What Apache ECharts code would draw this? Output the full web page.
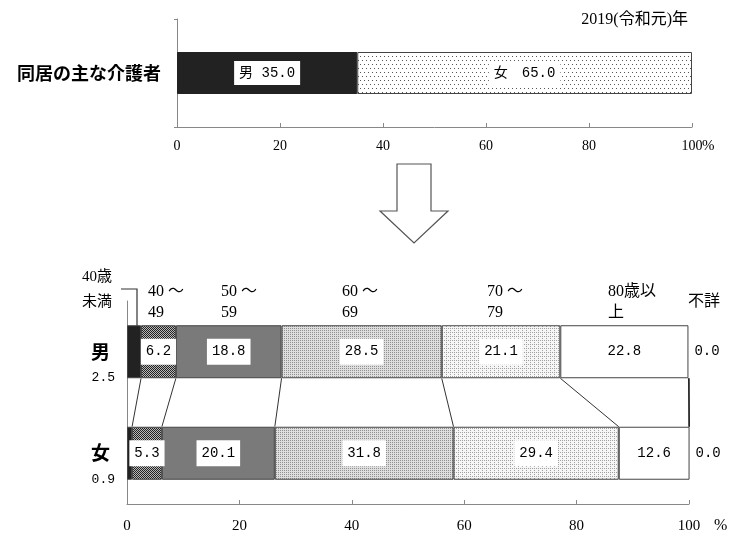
<!DOCTYPE html>
<html><head><meta charset="utf-8">
<script src="https://cdn.jsdelivr.net/npm/echarts@6/dist/echarts.min.js"></script>
<style>html,body{margin:0;padding:0;background:#fff}#c{width:734px;height:534px}</style>
</head><body><div id="c"></div>
<script>
// ---- data ----
const topCategory = ['同居の主な介護者'];
const topMale = [35.0];
const topFemale = [65.0];
const sexes = ['男', '女'];
const ageGroups = ['40歳未満', '40～49', '50～59', '60～69', '70～79', '80歳以上', '不詳'];
const maleShares = [2.5, 6.2, 18.8, 28.5, 21.1, 22.8, 0.0];
const femaleShares = [0.9, 5.3, 20.1, 31.8, 29.4, 12.6, 0.0];
const headerLines = [['40歳', '未満'], ['40 ～', '49'], ['50 ～', '59'], ['60 ～', '69'], ['70 ～', '79'], ['80歳以', '上'], ['不詳']];
const yearLabel = '2019(令和元)年';

// ---- styles ----
const NUM = '"Liberation Mono", "Noto Sans CJK JP", monospace';
const SERIF = '"Liberation Serif", "Noto Sans CJK JP", serif';
const JP = '"Noto Sans CJK JP", sans-serif';

function pattern(w, h, bg, fg, dots) {
  const c = document.createElement('canvas');
  c.width = w; c.height = h;
  const g = c.getContext('2d');
  g.fillStyle = bg; g.fillRect(0, 0, w, h);
  g.fillStyle = fg;
  dots.forEach(d => g.fillRect(d[0], d[1], 1, 1));
  return { image: c, repeat: 'repeat' };
}
const fills = [
  '#222222',
  pattern(2, 2, '#b8b8b8', '#222222', [[0, 0], [1, 1]]),
  '#7a7a7a',
  pattern(2, 2, '#dedede', '#909090', [[0, 0]]),
  pattern(4, 4, '#f6f6f6', '#a0a0a0', [[0, 0], [2, 2], [2, 0]]),
  '#ffffff',
  '#ffffff'
];
const topFemaleFill = pattern(4, 8, '#ffffff', '#555555', [[0, 0], [2, 4]]);

const BW = 53;      // bottom bar thickness
const TBW = 42;     // top bar thickness

const boxLabel = {
  show: true, position: 'inside', color: '#000', fontFamily: NUM, fontSize: 14,
  backgroundColor: '#fff', padding: [6, 5], formatter: p => p.value.toFixed(1)
};

function bottomLabel(i) {
  if (i === 0) return { show: true, position: 'left', distance: 12, offset: [0, 26], color: '#000', fontFamily: NUM, fontSize: 13, formatter: p => p.value.toFixed(1) };
  if (i === ageGroups.length - 1) return { show: true, position: 'right', distance: 6, color: '#000', fontFamily: NUM, fontSize: 14, formatter: p => p.value.toFixed(1) };
  return boxLabel;
}

const cumulative = arr => { let s = 0; return arr.map(v => (s += v)); };
const maleCum = cumulative(maleShares);
const femaleCum = cumulative(femaleShares);
const connectors = maleCum.slice(0, ageGroups.length - 1).map((m, i) => [m, femaleCum[i], 0]);

const axisLineStyle = { lineStyle: { color: '#888', width: 1 } };

const bottomSeries = ageGroups.map((g, i) => ({
  name: g, type: 'bar', xAxisIndex: 1, yAxisIndex: 1, stack: 'age', barWidth: BW, clip: false,
  data: [maleShares[i], femaleShares[i]],
  itemStyle: { color: fills[i], borderColor: '#444', borderWidth: i === ageGroups.length - 1 ? 0 : 1 },
  label: bottomLabel(i)
}));

const chart = echarts.init(document.getElementById('c'), null, { renderer: 'canvas' });

const graphics = [];
// title
graphics.push({ type: 'text', x: 688, y: 20, style: { text: yearLabel, font: '16px ' + SERIF, fill: '#000', align: 'right', verticalAlign: 'middle' } });
// % signs
graphics.push({ type: 'text', x: 702, y: 146, style: { text: '%', font: '15px ' + SERIF, fill: '#000', verticalAlign: 'middle' } });
graphics.push({ type: 'text', x: 714, y: 526, style: { text: '%', font: '16px ' + SERIF, fill: '#000', verticalAlign: 'middle' } });
// arrow
graphics.push({ type: 'polygon', shape: { points: [[397, 164], [431, 164], [431, 211], [448, 211], [414, 243], [380, 211], [397, 211]] },
  style: { fill: '#fff', stroke: '#555', lineWidth: 1.2 } });
// age headers: [x, y of first line, align]
const headerPos = [[112, 277, 'right'], [148, 292, 'left'], [221, 292, 'left'], [342, 292, 'left'], [487, 292, 'left'], [608, 292, 'left'], [688, 302, 'left']];
headerLines.forEach((lines, i) => {
  lines.forEach((t, k) => {
    graphics.push({ type: 'text', x: headerPos[i][0], y: headerPos[i][1] + k * (i === 0 ? 25 : 21),
      style: { text: t, font: (i === 0 ? '15px ' : '16px ') + SERIF, fill: '#000', align: headerPos[i][2], verticalAlign: 'middle' } });
  });
});
// leader for 40歳未満
graphics.push({ type: 'polyline', shape: { points: [[121, 289], [137, 289], [137, 336]] }, style: { stroke: '#333', lineWidth: 1.2, fill: null } });

chart.setOption({
  animation: false,
  backgroundColor: '#fff',
  grid: [
    { left: 177, right: 42, top: 19, height: 108 },
    { left: 127, right: 45, top: 301, height: 203 }
  ],
  xAxis: [
    { gridIndex: 0, type: 'value', min: 0, max: 100, interval: 20,
      axisLine: { show: true, ...axisLineStyle }, axisTick: { show: true, inside: true, length: 4, lineStyle: { color: '#888' } },
      splitLine: { show: false },
      axisLabel: { margin: 12, color: '#000', fontFamily: SERIF, fontSize: 14 } },
    { gridIndex: 1, type: 'value', min: 0, max: 100, interval: 20,
      axisLine: { show: true, ...axisLineStyle }, axisTick: { show: true, inside: true, length: 4, lineStyle: { color: '#888' } },
      splitLine: { show: false },
      axisLabel: { margin: 15, color: '#000', fontFamily: SERIF, fontSize: 15 } }
  ],
  yAxis: [
    { gridIndex: 0, type: 'category', data: topCategory,
      axisLine: { show: true, ...axisLineStyle }, axisTick: { show: true, length: 3, lineStyle: { color: '#888' } },
      axisLabel: { margin: 16, color: '#000', fontFamily: JP, fontSize: 18, fontWeight: 'bold' } },
    { gridIndex: 1, type: 'category', data: sexes, inverse: true,
      axisLine: { show: true, ...axisLineStyle }, axisTick: { show: false },
      axisLabel: { margin: 17, color: '#000', fontFamily: JP, fontSize: 19, fontWeight: 'bold' } }
  ],
  series: [
    { name: '男', type: 'bar', xAxisIndex: 0, yAxisIndex: 0, stack: 'top', barWidth: TBW, data: topMale,
      itemStyle: { color: '#222', borderColor: '#222', borderWidth: 1 },
      label: { show: true, position: 'inside', color: '#000', fontFamily: NUM, fontSize: 14, backgroundColor: '#fff', padding: [5, 5],
        formatter: p => '男 ' + p.value.toFixed(1) } },
    { name: '女', type: 'bar', xAxisIndex: 0, yAxisIndex: 0, stack: 'top', barWidth: TBW, data: topFemale,
      itemStyle: { color: topFemaleFill, borderColor: '#444', borderWidth: 1 },
      label: { show: true, position: 'inside', color: '#000', fontFamily: NUM, fontSize: 14, backgroundColor: '#fff', padding: [5, 5],
        formatter: p => '女　' + p.value.toFixed(1) } },
    ...bottomSeries,
    { type: 'custom', xAxisIndex: 1, yAxisIndex: 1, data: connectors, clip: false, silent: true,
      encode: { x: [0, 1], y: 2 },
      renderItem: (params, api) => {
        const p1 = api.coord([api.value(0), 0]);
        const p2 = api.coord([api.value(1), 1]);
        return { type: 'line', shape: { x1: p1[0], y1: p1[1] + BW / 2, x2: p2[0], y2: p2[1] - BW / 2 },
          style: { stroke: '#333', lineWidth: 1 } };
      } },
    { type: 'custom', xAxisIndex: 1, yAxisIndex: 1, data: [[100, 100, 0]], clip: false, silent: true,
      encode: { x: [0, 1], y: 2 },
      renderItem: (params, api) => {
        const p1 = api.coord([api.value(0), 0]);
        const p2 = api.coord([api.value(1), 1]);
        return { type: 'line', shape: { x1: p1[0], y1: p1[1] + BW / 2, x2: p2[0], y2: p2[1] - BW / 2 },
          style: { stroke: '#222', lineWidth: 1.5 } };
      } }
  ],
  graphic: graphics
});
</script></body></html>
